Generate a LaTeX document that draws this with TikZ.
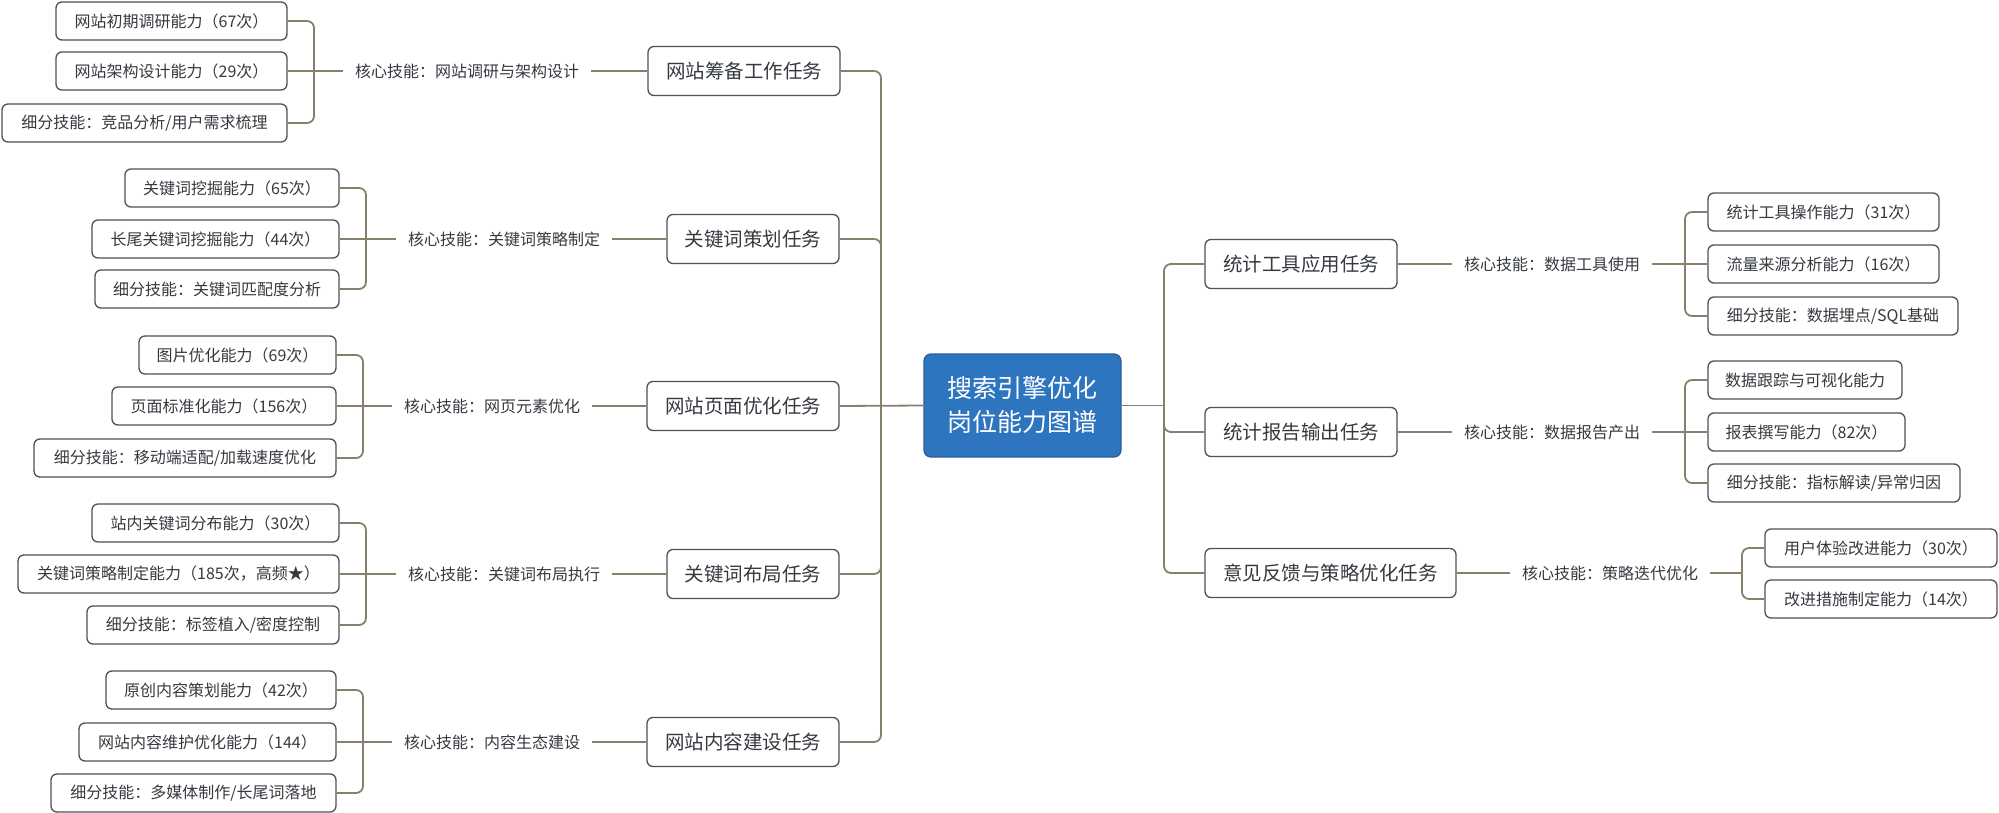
\documentclass[tikz,border=0pt]{standalone}
\usepackage{fontspec}
\setmainfont{Noto Sans CJK SC}
\definecolor{linec}{HTML}{86806A}
\definecolor{boxc}{HTML}{4B5259}
\definecolor{txtc}{HTML}{353A40}
\definecolor{rootc}{HTML}{2E75C0}
\definecolor{rootb}{HTML}{2A5E98}
\begin{document}
\begin{tikzpicture}[x=1pt,y=-1pt,
  conn/.style={draw=linec,line width=1.8pt,rounded corners=7pt},
  leaf/.style={draw=boxc,fill=white,line width=1.3pt,rounded corners=6pt,minimum height=38pt,inner sep=0pt,text=txtc,font=\fontsize{16}{19}\selectfont},
  task/.style={draw=boxc,fill=white,line width=1.3pt,rounded corners=6pt,minimum height=49pt,inner sep=0pt,text=txtc,font=\fontsize{19.5}{23}\selectfont},
  skill/.style={inner xsep=12pt,inner ysep=2pt,text=txtc,font=\fontsize{16}{19}\selectfont},
  rootbox/.style={draw=rootb,fill=rootc,line width=1.3pt,rounded corners=7pt,minimum width=197pt,minimum height=103pt,inner sep=0pt,text=white,align=center,font=\fontsize{25}{34}\selectfont}]
\useasboundingbox (0,0) rectangle (1999,813);
% root
\node[rootbox] (root) at (1022.5,405.5) {搜索引擎优化\\岗位能力图谱};
% left tasks
\node[task,minimum width=192pt] (t1) at (744,71) {网站筹备工作任务};
\node[task,minimum width=172pt] (t2) at (753,239) {关键词策划任务};
\node[task,minimum width=192pt] (t3) at (743,406) {网站页面优化任务};
\node[task,minimum width=172pt] (t4) at (753,574) {关键词布局任务};
\node[task,minimum width=192pt] (t5) at (743,742) {网站内容建设任务};
% left skills
\node[skill] (l1) at (467,71) {核心技能：网站调研与架构设计};
\node[skill] (l2) at (504,239) {核心技能：关键词策略制定};
\node[skill] (l3) at (492,406) {核心技能：网页元素优化};
\node[skill] (l4) at (504,574) {核心技能：关键词布局执行};
\node[skill] (l5) at (492,742) {核心技能：内容生态建设};
% left leaves
\node[leaf,minimum width=231pt] (c11) at (171.5,21) {网站初期调研能力（67次）};
\node[leaf,minimum width=231pt] (c12) at (171.5,71) {网站架构设计能力（29次）};
\node[leaf,minimum width=285pt] (c13) at (144.5,123) {细分技能：竞品分析/用户需求梳理};
\node[leaf,minimum width=214pt] (c21) at (232,188) {关键词挖掘能力（65次）};
\node[leaf,minimum width=247pt] (c22) at (215.5,239) {长尾关键词挖掘能力（44次）};
\node[leaf,minimum width=244pt] (c23) at (217,289) {细分技能：关键词匹配度分析};
\node[leaf,minimum width=197pt] (c31) at (237.5,355) {图片优化能力（69次）};
\node[leaf,minimum width=224pt] (c32) at (224,406) {页面标准化能力（156次）};
\node[leaf,minimum width=302pt] (c33) at (185,458) {细分技能：移动端适配/加载速度优化};
\node[leaf,minimum width=247pt] (c41) at (215.5,523) {站内关键词分布能力（30次）};
\node[leaf,minimum width=321pt] (c42) at (178.5,574) {关键词策略制定能力（185次，高频★）};
\node[leaf,minimum width=252pt] (c43) at (213,625) {细分技能：标签植入/密度控制};
\node[leaf,minimum width=230pt] (c51) at (221,690) {原创内容策划能力（42次）};
\node[leaf,minimum width=257pt] (c52) at (207.5,742) {网站内容维护优化能力（144）};
\node[leaf,minimum width=285pt] (c53) at (193.5,793) {细分技能：多媒体制作/长尾词落地};
% right tasks
\node[task,minimum width=192pt] (r1) at (1301,264) {统计工具应用任务};
\node[task,minimum width=192pt] (r2) at (1301,432) {统计报告输出任务};
\node[task,minimum width=251pt] (r3) at (1330.5,573) {意见反馈与策略优化任务};
% right skills
\node[skill] (rl1) at (1552,264) {核心技能：数据工具使用};
\node[skill] (rl2) at (1552,432) {核心技能：数据报告产出};
\node[skill] (rl3) at (1610,573) {核心技能：策略迭代优化};
% right leaves
\node[leaf,minimum width=231pt] (d11) at (1823.5,212) {统计工具操作能力（31次）};
\node[leaf,minimum width=231pt] (d12) at (1823.5,264) {流量来源分析能力（16次）};
\node[leaf,minimum width=250pt] (d13) at (1833,316) {细分技能：数据埋点/SQL基础};
\node[leaf,minimum width=194pt] (d21) at (1805,380) {数据跟踪与可视化能力};
\node[leaf,minimum width=197pt] (d22) at (1806.5,432) {报表撰写能力（82次）};
\node[leaf,minimum width=252pt] (d23) at (1834,483) {细分技能：指标解读/异常归因};
\node[leaf,minimum width=232pt] (d31) at (1881,548) {用户体验改进能力（30次）};
\node[leaf,minimum width=232pt] (d32) at (1881,599) {改进措施制定能力（14次）};
% coordinates
\coordinate (tl) at (881,405.5);
\coordinate (tr) at (1164,405.5);
\coordinate (b1) at (314,71);
\coordinate (b2) at (366,239);
\coordinate (b3) at (363,406);
\coordinate (b4) at (366,574);
\coordinate (b5) at (363,742);
\coordinate (e1) at (1685,264);
\coordinate (e2) at (1685,432);
\coordinate (e3) at (1742,573);
% trunk left
\draw[conn] (t1.east) -| (tl) |- (t5.east);
\draw[conn] (t2.east) -| (tl);
\draw[conn] (t4.east) -| (tl);
\draw[conn] (t3.east) -- (root.west);
% trunk right
\draw[conn] (root.east) -- (tr);
\draw[conn] (r1.west) -| (tr) |- (r3.west);
\draw[conn] (tr) |- (r2.west);
% task to skill
\draw[conn] (t1.west) -- (l1.east);
\draw[conn] (t2.west) -- (l2.east);
\draw[conn] (t3.west) -- (l3.east);
\draw[conn] (t4.west) -- (l4.east);
\draw[conn] (t5.west) -- (l5.east);
\draw[conn] (r1.east) -- (rl1.west);
\draw[conn] (r2.east) -- (rl2.west);
\draw[conn] (r3.east) -- (rl3.west);
% left brackets
\draw[conn] (l1.west) -- (c12.east);
\draw[conn] (c11.east) -| (b1) |- (c13.east);
\draw[conn] (l2.west) -- (c22.east);
\draw[conn] (c21.east) -| (b2) |- (c23.east);
\draw[conn] (l3.west) -- (c32.east);
\draw[conn] (c31.east) -| (b3) |- (c33.east);
\draw[conn] (l4.west) -- (c42.east);
\draw[conn] (c41.east) -| (b4) |- (c43.east);
\draw[conn] (l5.west) -- (c52.east);
\draw[conn] (c51.east) -| (b5) |- (c53.east);
% right brackets
\draw[conn] (rl1.east) -- (d12.west);
\draw[conn] (d11.west) -| (e1) |- (d13.west);
\draw[conn] (rl2.east) -- (d22.west);
\draw[conn] (d21.west) -| (e2) |- (d23.west);
\draw[conn] (rl3.east) -- (e3);
\draw[conn] (d31.west) -| (e3) |- (d32.west);
\end{tikzpicture}
\end{document}
